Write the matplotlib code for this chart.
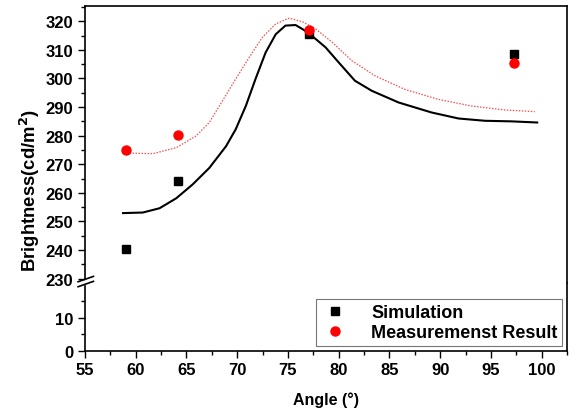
import matplotlib
matplotlib.use('Agg')
import matplotlib.pyplot as plt
from matplotlib.lines import Line2D

plt.rcParams['font.family'] = ['Liberation Sans', 'DejaVu Sans']
plt.rcParams['font.weight'] = 'bold'

# 측정/시뮬레이션 점
angle_pts = [59.0, 64.2, 77.1, 97.3]
sim_pts = [240.5, 264.0, 315.4, 308.5]
meas_pts = [274.9, 280.1, 317.1, 305.3]

# 시뮬레이션 곡선 (실선)
sim_x = [58.75, 60.7, 62.35, 64.0, 65.6, 67.25, 68.9, 69.85, 70.85, 71.8, 72.8,
         73.8, 74.75, 75.75, 76.7, 77.7, 78.7, 80.0, 81.6, 83.25, 85.9, 89.15,
         91.8, 94.4, 97.0, 99.55]
sim_y = [252.9, 253.1, 254.6, 258.1, 262.9, 268.7, 276.3, 282.2, 290.4, 299.8,
         309.1, 315.5, 318.5, 318.7, 316.7, 313.9, 310.9, 305.6, 299.2, 295.7,
         291.6, 288.1, 286.0, 285.2, 285.0, 284.6]

# 측정 곡선 (점선)
meas_x = [59.1, 61.7, 64.0, 65.95, 67.25, 68.55, 69.85, 71.2, 72.5, 73.8, 75.1,
          76.4, 77.7, 79.35, 81.3, 83.6, 86.5, 89.8, 93.05, 96.3, 99.3]
meas_y = [273.9, 273.7, 275.8, 279.9, 284.6, 292.2, 299.8, 307.5, 314.5, 319.1,
          321.1, 319.9, 317.4, 312.7, 306.2, 300.9, 296.2, 292.7, 290.4, 289.0,
          288.4]

xticks = [55, 60, 65, 70, 75, 80, 85, 90, 95, 100]

fig = plt.figure(figsize=(5.7, 4.14), dpi=100)
ax_top = fig.add_axes([0.149, 0.313, 0.846, 0.669])
ax_bot = fig.add_axes([0.149, 0.1505, 0.846, 0.1625], sharex=ax_top)

for ax in (ax_top, ax_bot):
    ax.plot(sim_x, sim_y, color='black', lw=1.5)
    ax.plot(meas_x, meas_y, color='#f05050', lw=0.9, ls=(0, (1.2, 1.2)))
    ax.plot(angle_pts, sim_pts, 's', color='black', ms=6, ls='none', label='Simulation')
    ax.plot(angle_pts, meas_pts, 'o', color='red', ms=6.5, ls='none',
            label='Measuremenst Result')
    ax.tick_params(axis='both', which='major', direction='out', length=5, width=1,
                   labelsize=12, right=False, top=False)
    ax.tick_params(axis='both', which='minor', direction='out', length=3, width=1,
                   right=False, top=False)
    for s in ax.spines.values():
        s.set_linewidth(1.2)

ax_top.set_xlim(55, 102.3)
ax_top.set_ylim(228.3, 325.2)
ax_top.set_yticks(range(230, 321, 10))
ax_top.set_yticks(range(235, 326, 10), minor=True)
ax_top.spines['bottom'].set_visible(False)
ax_top.spines['left'].set_bounds(229.8, 325.2)
ax_top.tick_params(axis='x', which='both', bottom=False, labelbottom=False)

ax_bot.set_ylim(0, 20.3)
ax_bot.set_yticks([0, 10])
ax_bot.set_yticks([5, 15], minor=True)
ax_bot.set_xticks(xticks)
ax_bot.set_xticks([x + 2.5 for x in xticks], minor=True)
ax_bot.spines['top'].set_visible(False)
ax_bot.spines['left'].set_bounds(0, 19.5)

for t in ax_top.get_yticklabels() + ax_bot.get_yticklabels() + ax_bot.get_xticklabels():
    t.set_fontweight('bold')

# 축 끊김 표시
for y0 in (0.311, 0.323):
    fig.add_artist(Line2D([0.137, 0.164], [y0 - 0.006, y0 + 0.007], color='black',
                          lw=1.2, transform=fig.transFigure))

ax_bot.set_xlabel('Angle (°)', fontsize=11.5, fontweight='bold', labelpad=10)
fig.text(0.053, 0.54, 'Brightness(cd/m$^{\\mathbf{2}}$)', rotation=90, fontsize=13.3,
         fontweight='bold', ha='center', va='center')

leg = ax_bot.legend(loc='lower right', bbox_to_anchor=(0.99, 0.07), borderaxespad=0,
                    prop={'size': 13, 'weight': 'bold'}, frameon=True, fancybox=False,
                    handletextpad=1.2, borderpad=0.25, labelspacing=0.2,
                    handlelength=1.6)
leg.get_frame().set_edgecolor('#555555')
leg.get_frame().set_linewidth(0.8)

plt.savefig('out.png', dpi=100)
